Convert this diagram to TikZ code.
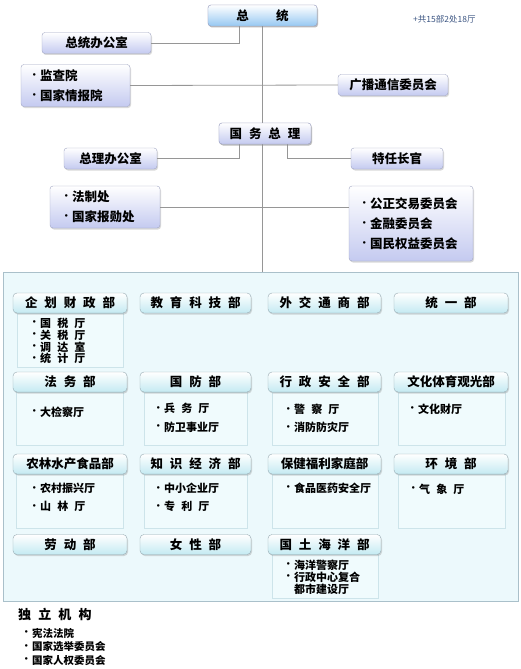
\documentclass[tikz,border=0pt]{standalone}
\usepackage{fontspec}
\setmainfont{Noto Sans CJK SC}
\newfontfamily\dejavu{DejaVu Sans}
\usetikzlibrary{shadows}
\newcommand\mygap{\hspace{0.55em}}
\newcommand\bul{\makebox[9pt][l]{\hspace{1pt}\raisebox{0.22em}{\dejavu\fontsize{7}{7}\selectfont •}}}
\definecolor{linec}{RGB}{150,150,150}
\definecolor{lav}{RGB}{196,202,240}
\definecolor{lavbd}{RGB}{160,165,195}
\definecolor{bluebot}{RGB}{150,200,242}
\definecolor{cyanbot}{RGB}{196,234,242}
\definecolor{headbd}{RGB}{150,170,178}
\definecolor{subfill}{RGB}{240,251,253}
\definecolor{subbd}{RGB}{205,228,234}
\definecolor{panelfill}{RGB}{236,249,252}
\definecolor{panelbd}{RGB}{170,192,202}
\definecolor{notec}{RGB}{60,85,130}
\begin{document}
\begin{tikzpicture}[x=1pt,y=-1pt,
  conn/.style={draw=linec, line width=0.8pt},
  shad/.style={drop shadow={shadow xshift=1pt, shadow yshift=-1.5pt, opacity=0.3, fill=gray}},
  lavbox/.style={draw=lavbd, rounded corners=3pt, top color=white, bottom color=lav, shad,
    font=\fontsize{12.5}{20}\selectfont\bfseries, inner sep=0pt, minimum height=21pt},
  bluebox/.style={lavbox, bottom color=bluebot, draw=lavbd},
  mhead/.style={draw=headbd, rounded corners=4pt, top color=white, bottom color=cyanbot, shad,
    font=\fontsize{12.5}{14}\selectfont\bfseries, inner sep=0pt, minimum height=20pt},
  msub/.style={draw=subbd, fill=subfill, anchor=north, inner sep=0pt},
  items/.style={anchor=west, align=left, inner sep=0pt, font=\fontsize{11}{18.5}\selectfont\bfseries},
  panel/.style={draw=panelbd, fill=panelfill, inner sep=0pt}]
\useasboundingbox (0,0) rectangle (520,669);

% panel
\node[panel, minimum width=515pt, minimum height=329pt] (pn) at (260.5,436.5) {};

% top boxes
\node[bluebox, minimum width=109pt] (zt) at (262.5,15.5) {总\hspace{2.2em}统};
\node[anchor=west, inner sep=0pt, text=notec, font=\fontsize{8.5}{10}\selectfont] (note) at (413,19) {+共15部2处18厅};
\node[lavbox, minimum width=109pt] (zbg) at (96.5,43) {总统办公室};
\node[lavbox, minimum height=42pt, align=left, text width=89pt, inner xsep=10pt] (jc) at (75.5,85.5) {\bul 监查院\\\bul 国家情报院};
\node[lavbox, minimum width=110pt] (gb) at (393,85) {广播通信委员会};
\node[lavbox, minimum width=92pt] (zl) at (265,133.5) {国\mygap 务\mygap 总\mygap 理};
\node[lavbox, minimum width=93pt] (zlb) at (110.5,158.5) {总理办公室};
\node[lavbox, minimum width=92pt] (tr) at (397,158.5) {特任长官};
\node[lavbox, minimum height=42pt, align=left, text width=84pt, inner xsep=13pt] (fz) at (105,207) {\bul 法制处\\\bul 国家报勋处};
\node[lavbox, minimum height=75pt, align=left, text width=100pt, inner xsep=12pt] (gz) at (411,223.5) {\bul 公正交易委员会\\\bul 金融委员会\\\bul 国民权益委员会};

% connectors
\path[conn] (zt.south) -- (zt.south |- pn.north);
\path[conn] (zbg.east) -| ([xshift=-23pt]zt.south);
\path[conn] (jc.east) -- (gb.west);
\path[conn] (zlb.east) -| ([xshift=-26pt]zl.south);
\path[conn] (tr.west) -| ([xshift=22pt]zl.south);
\path[conn] (fz.east) -- (fz.east -| gz.west);

% redraw boxes crossed by the trunk line
\node[bluebox, minimum width=109pt] (zt2) at (262.5,15.5) {总\hspace{2.2em}统};
\node[lavbox, minimum width=92pt] (zl2) at (265,133.5) {国\mygap 务\mygap 总\mygap 理};

% ministries: sub boxes
\node[msub, minimum width=106pt, minimum height=54pt] (s11) at (70,313) {};
\node[msub, minimum width=107pt, minimum height=53pt] (s21) at (70,392) {};
\node[msub, minimum width=103pt, minimum height=53pt] (s22) at (195.5,392) {};
\node[msub, minimum width=106pt, minimum height=53pt] (s23) at (325,392) {};
\node[msub, minimum width=107pt, minimum height=53pt] (s24) at (451.5,392) {};
\node[msub, minimum width=107pt, minimum height=54pt] (s31) at (70,474) {};
\node[msub, minimum width=103pt, minimum height=54pt] (s32) at (195.5,474) {};
\node[msub, minimum width=106pt, minimum height=54pt] (s33) at (325,474) {};
\node[msub, minimum width=107pt, minimum height=54pt] (s34) at (451.5,474) {};
\node[msub, minimum width=106pt, minimum height=44pt] (s43) at (325,554) {};

% ministries: headers
\node[mhead, minimum width=114pt] (h11) at (70,303) {企\mygap 划\mygap 财\mygap 政\mygap 部};
\node[mhead, minimum width=111pt] (h12) at (195.5,303) {教\mygap 育\mygap 科\mygap 技\mygap 部};
\node[mhead, minimum width=113pt] (h13) at (324.5,303) {外\mygap 交\mygap 通\mygap 商\mygap 部};
\node[mhead, minimum width=114pt] (h14) at (451,303) {统\mygap 一\mygap 部};
\node[mhead, minimum width=114pt] (h21) at (70,382) {法\mygap 务\mygap 部};
\node[mhead, minimum width=111pt] (h22) at (195.5,382) {国\mygap 防\mygap 部};
\node[mhead, minimum width=113pt] (h23) at (324.5,382) {行\mygap 政\mygap 安\mygap 全\mygap 部};
\node[mhead, minimum width=114pt] (h24) at (451,382) {文化体育观光部};
\node[mhead, minimum width=114pt] (h31) at (70,464) {农林水产食品部};
\node[mhead, minimum width=111pt] (h32) at (195.5,464) {知\mygap 识\mygap 经\mygap 济\mygap 部};
\node[mhead, minimum width=113pt] (h33) at (324.5,464) {保健福利家庭部};
\node[mhead, minimum width=114pt] (h34) at (451,464) {环\mygap 境\mygap 部};
\node[mhead, minimum width=114pt] (h41) at (70,544.5) {劳\mygap 动\mygap 部};
\node[mhead, minimum width=111pt] (h42) at (195.5,544.5) {女\mygap 性\mygap 部};
\node[mhead, minimum width=113pt] (h43) at (324.5,544.5) {国\mygap 土\mygap 海\mygap 洋\mygap 部};

% ministries: items
\node[items, font=\fontsize{11}{11.8}\selectfont\bfseries] (t11) at (31,341) {\bul 国\mygap 税\mygap 厅\\\bul 关\mygap 税\mygap 厅\\\bul 调\mygap 达\mygap 室\\\bul 统\mygap 计\mygap 厅};
\node[items] (t21) at (31,412) {\bul 大检察厅};
\node[items] (t22) at (155,418) {\bul 兵\mygap 务\mygap 厅\\\bul 防卫事业厅};
\node[items] (t23) at (285,418.5) {\bul 警\mygap 察\mygap 厅\\\bul 消防防灾厅};
\node[items] (t24) at (409,409) {\bul 文化财厅};
\node[items] (t31) at (31,497.5) {\bul 农村振兴厅\\\bul 山\mygap 林\mygap 厅};
\node[items] (t32) at (155,497.5) {\bul 中小企业厅\\\bul 专\mygap 利\mygap 厅};
\node[items] (t33) at (285,488) {\bul 食品医药安全厅};
\node[items] (t34) at (410,489) {\bul 气\mygap 象\mygap 厅};
\node[items, font=\fontsize{11}{12}\selectfont\bfseries] (t43) at (285,577) {\bul 海洋警察厅\\\bul 行政中心复合\\\hspace{9pt}都市建设厅};

% independent agencies
\node[anchor=west, inner sep=0pt, font=\fontsize{13}{15}\selectfont\bfseries] (dl) at (18,614) {独\mygap 立\mygap 机\mygap 构};
\node[items, font=\fontsize{10.5}{13.5}\selectfont\bfseries] (dli) at (23,646.5) {\bul 宪法法院\\\bul 国家选举委员会\\\bul 国家人权委员会};
\end{tikzpicture}
\end{document}
